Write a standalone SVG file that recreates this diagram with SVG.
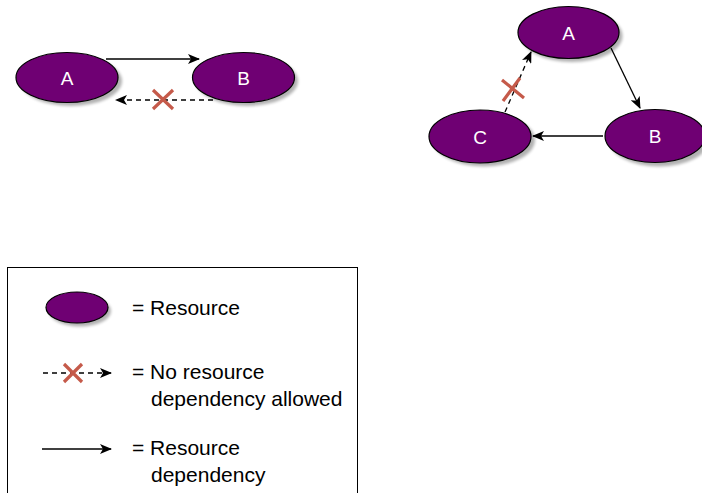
<svg xmlns="http://www.w3.org/2000/svg" width="702" height="493" viewBox="0 0 702 493">
<style>
.node{fill:#6f0073;stroke:#000;stroke-width:1.2}
.shadow{fill:#000;opacity:0.3;filter:url(#blur)}
.lbl{font-family:"Liberation Sans",Arial,sans-serif;font-size:19px;fill:#fff;text-anchor:middle}
.leg{font-family:"Liberation Sans",Arial,sans-serif;font-size:21px;fill:#000}
.solid{stroke:#000;stroke-width:1.3;fill:none;marker-end:url(#arr)}
.dash{stroke:#000;stroke-width:1.3;fill:none;stroke-dasharray:5,4;marker-end:url(#arr)}
.x{stroke:#c55a4a;stroke-width:3.2;fill:none}
</style>
<defs>
<filter id="blur" x="-20%" y="-20%" width="140%" height="140%"><feGaussianBlur stdDeviation="1.5"/></filter>
<marker id="arr" viewBox="0 0 12 10" refX="11" refY="5" markerWidth="12" markerHeight="10" markerUnits="userSpaceOnUse" orient="auto">
<path d="M0,0 L12,5 L0,10 L3,5 Z" fill="#000"/>
</marker>
</defs>
<rect width="702" height="493" fill="#fff"/>
<g id="connectors">
<line class="solid" x1="106" y1="59" x2="199" y2="59"/>
<line class="dash" x1="213" y1="100" x2="116" y2="100"/>
<line class="solid" x1="611" y1="48" x2="640" y2="108"/>
<line class="solid" x1="603" y1="136" x2="533" y2="136"/>
<line class="dash" x1="505" y1="112" x2="531" y2="52"/>
</g>
<g id="marks">
<path class="x" d="M153,90 L173,109 M173,90 L153,109"/>
<path class="x" d="M502,80 L524,98 M503,101 L520,78"/>
</g>
<g id="nodeA1"><ellipse class="shadow" cx="71" cy="81" rx="51" ry="25"/><ellipse class="node" cx="67" cy="77.5" rx="51" ry="25"/><text class="lbl" x="67" y="84.5">A</text></g>
<g id="nodeB1"><ellipse class="shadow" cx="247" cy="81" rx="51" ry="25"/><ellipse class="node" cx="243.5" cy="77.5" rx="51" ry="25"/><text class="lbl" x="243.5" y="84.5">B</text></g>
<g id="nodeA2"><ellipse class="shadow" cx="572" cy="36" rx="50.5" ry="26"/><ellipse class="node" cx="568.5" cy="32.5" rx="50.5" ry="26"/><text class="lbl" x="568.5" y="39.5">A</text></g>
<g id="nodeB2"><ellipse class="shadow" cx="659" cy="140" rx="50" ry="26.5"/><ellipse class="node" cx="655" cy="136" rx="50" ry="26.5"/><text class="lbl" x="655" y="143">B</text></g>
<g id="nodeC2"><ellipse class="shadow" cx="484" cy="140" rx="51" ry="26.5"/><ellipse class="node" cx="480" cy="136.5" rx="51" ry="26.5"/><text class="lbl" x="480" y="143.5">C</text></g>
<g id="legend">
<rect x="7.5" y="267.5" width="350" height="240" fill="#fff" stroke="#000" stroke-width="1"/>
<ellipse class="shadow" cx="80" cy="311" rx="31" ry="15.5"/>
<ellipse class="node" cx="77" cy="307.5" rx="31" ry="15.5"/>
<text class="leg" x="132" y="315">= Resource</text>
<line class="dash" x1="43" y1="373" x2="111" y2="373"/>
<path class="x" d="M64,364 L82,382 M82,364 L64,382"/>
<text class="leg" x="132" y="379">= No resource</text>
<text class="leg" x="151" y="406">dependency allowed</text>
<line class="solid" x1="42" y1="449" x2="111" y2="449"/>
<text class="leg" x="132" y="455">= Resource</text>
<text class="leg" x="151" y="482">dependency</text>
</g>
</svg>
